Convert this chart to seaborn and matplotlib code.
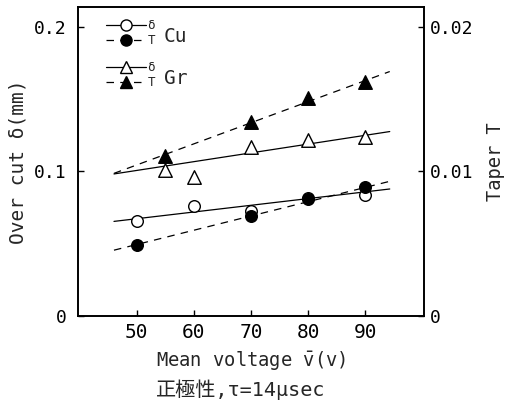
import numpy as np
import pandas as pd
import matplotlib
matplotlib.use("Agg")
import matplotlib.pyplot as plt
import seaborn as sns
from matplotlib.lines import Line2D

# ---- data ----
cu_delta_v = [50, 60, 70, 80, 90]
cu_delta = [0.0654, 0.0757, 0.0723, 0.0815, 0.0838]
cu_taper_v = [50, 70, 80, 90]
cu_taper = [0.00492, 0.00693, 0.00810, 0.00889]
gr_delta_v = [55, 60, 70, 80, 90]
gr_delta = [0.1010, 0.0958, 0.1166, 0.1217, 0.1236]
gr_taper_v = [55, 70, 80, 90]
gr_taper = [0.01109, 0.01340, 0.01508, 0.01617]

# fitted straight lines (end points)
fit_v = [46.0, 94.3]
cu_delta_fit = [0.0654, 0.0878]
cu_taper_fit = [0.00455, 0.00931]
gr_delta_fit = [0.0982, 0.1275]
gr_taper_fit = [0.00986, 0.01690]

x_ticks = [50, 60, 70, 80, 90]
y_ticks = [0, 0.1, 0.2]
y_ticklabels = ["0", "0.1", "0.2"]
y2_ticks = [0, 0.01, 0.02]
y2_ticklabels = ["0", "0.01", "0.02"]

sns.set_style("ticks")
mono = ["DejaVu Sans Mono", "Noto Sans CJK JP"]
plt.rcParams["font.family"] = mono
plt.rcParams["mathtext.fontset"] = "custom"
plt.rcParams["mathtext.rm"] = "DejaVu Sans Mono"
plt.rcParams["mathtext.it"] = "DejaVu Sans Mono"

fig = plt.figure(figsize=(5.14, 4.04), dpi=100)
ax = fig.add_axes([78 / 514, 1 - 316 / 404, 346 / 514, 309 / 404])
ax2 = ax.twinx()

dash = (0, (6, 5))
lw = 0.9

# fitted lines
sns.lineplot(x=fit_v, y=cu_delta_fit, ax=ax, color="black", linewidth=lw)
sns.lineplot(x=fit_v, y=gr_delta_fit, ax=ax, color="black", linewidth=lw)
sns.lineplot(x=fit_v, y=cu_taper_fit, ax=ax2, color="black", linewidth=lw, linestyle=dash)
sns.lineplot(x=fit_v, y=gr_taper_fit, ax=ax2, color="black", linewidth=lw, linestyle=dash)

# points
sns.scatterplot(x=cu_delta_v, y=cu_delta, ax=ax, marker="o", s=70, color="white",
                edgecolor="black", linewidth=1.0, zorder=5)
sns.scatterplot(x=gr_delta_v, y=gr_delta, ax=ax, marker="^", s=95, color="white",
                edgecolor="black", linewidth=1.0, zorder=5)
sns.scatterplot(x=cu_taper_v, y=cu_taper, ax=ax2, marker="o", s=70, color="black",
                edgecolor="black", linewidth=1.0, zorder=5)
sns.scatterplot(x=gr_taper_v, y=gr_taper, ax=ax2, marker="^", s=95, color="black",
                edgecolor="black", linewidth=1.0, zorder=5)

ax.set_xlim(39.7, 100.3)
ax.set_ylim(0, 0.2136)
ax2.set_ylim(0, 0.02136)

ax.set_xticks(x_ticks)
ax.set_yticks(y_ticks)
ax.set_yticklabels(y_ticklabels)
ax2.set_yticks(y2_ticks)
ax2.set_yticklabels(y2_ticklabels)

for a in (ax, ax2):
    for s in a.spines.values():
        s.set_visible(True)
        s.set_linewidth(1.2)
        s.set_color("black")
ax.tick_params(axis="both", direction="in", length=4, width=1, labelsize=13, pad=8,
               colors="black")
ax.tick_params(axis="x", labelsize=14, pad=5)
ax2.tick_params(axis="y", direction="in", length=4, width=1, labelsize=13, pad=4,
                colors="black")

ax.set_xlabel(r"Mean voltage $\bar{\mathrm{v}}$(v)", fontsize=13.5, labelpad=5)
ax.set_ylabel("Over cut \u03b4(mm)", fontsize=14, labelpad=5)
ax2.set_ylabel("Taper T", fontsize=13.5, labelpad=9)

fig.text(0.468, 1 - 390 / 404, "正極性,τ=14μsec", ha="center", va="center",
         fontsize=14.5, family=mono)

# legends
def make_legend(handles, labels, y_px):
    lg = ax.legend(handles, labels, loc="upper left",
                   bbox_to_anchor=(106 / 514, 1 - y_px / 404),
                   bbox_transform=fig.transFigure,
                   frameon=False, fontsize=9, handlelength=3.2,
                   handletextpad=0.1, labelspacing=0.15, borderpad=0,
                   borderaxespad=0)
    return lg

h_cu = [Line2D([], [], color="black", lw=lw, marker="o", ms=8, mfc="white", mec="black"),
        Line2D([], [], color="black", lw=lw, ls=dash, marker="o", ms=8, mfc="black", mec="black")]
h_gr = [Line2D([], [], color="black", lw=lw, marker="^", ms=9, mfc="white", mec="black"),
        Line2D([], [], color="black", lw=lw, ls=dash, marker="^", ms=9, mfc="black", mec="black")]
lg1 = make_legend(h_cu, ["\u03b4", "T"], 19)
ax.add_artist(lg1)
lg2 = make_legend(h_gr, ["\u03b4", "T"], 61)
fig.text(164 / 514, 1 - 36 / 404, "Cu", fontsize=14, va="center", ha="left")
fig.text(164 / 514, 1 - 78 / 404, "Gr", fontsize=14, va="center", ha="left")

fig.savefig("out.png", dpi=100)
